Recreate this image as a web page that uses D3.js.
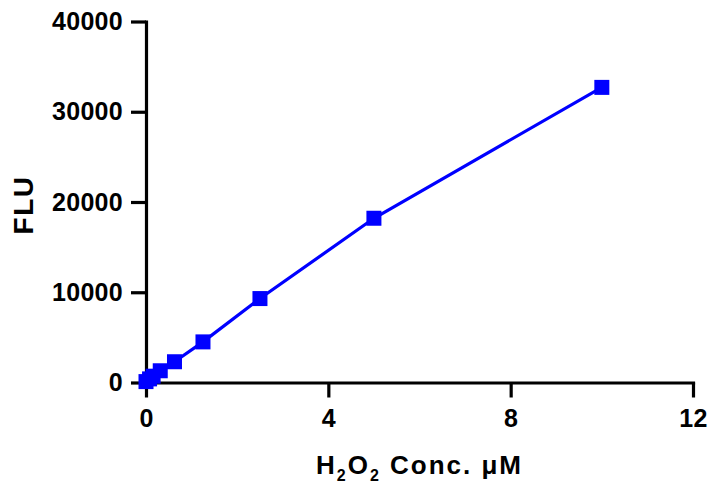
<!DOCTYPE html>
<html>
<head>
<meta charset="utf-8">
<script src="https://cdn.jsdelivr.net/npm/d3@7"></script>
<style>
  body { margin: 0; background: #fff; }
  svg text { font-family: "Liberation Sans", Arial, sans-serif; font-weight: bold; fill: #000; }
</style>
</head>
<body>
<div id="chart"></div>
<script>
var width = 711, height = 484;

// data
var conc = [0, 0.078, 0.156, 0.3125, 0.625, 1.25, 2.5, 5, 10];
var flu = [100, 400, 700, 1300, 2300, 4500, 9300, 18200, 32700];
var xTicks = [0, 4, 8, 12];
var yTicks = [0, 10000, 20000, 30000, 40000];

var svg = d3.select('#chart')
  .append('svg')
  .attr('width', width)
  .attr('height', height);

var xScale = d3.scaleLinear().domain([0, 12]).range([146, 693]);
var yScale = d3.scaleLinear().domain([0, 40000]).range([382.5, 21.5]);

var xAxis = d3.axisBottom(xScale).tickValues(xTicks).tickFormat(d3.format('d'))
  .tickSize(15).tickPadding(12).tickSizeOuter(0);
var yAxis = d3.axisLeft(yScale).tickValues(yTicks).tickFormat(d3.format('d'))
  .tickSize(15).tickPadding(8).tickSizeOuter(0);

var gx = svg.append('g')
  .attr('transform', 'translate(0,' + yScale(0) + ')')
  .call(xAxis);
var gy = svg.append('g')
  .attr('transform', 'translate(' + xScale(0) + ',0)')
  .call(yAxis);

[gx, gy].forEach(function (g) {
  g.selectAll('path, line').attr('stroke', '#000').attr('stroke-width', 3.2);
  g.selectAll('path').attr('stroke-linecap', 'square');
  g.selectAll('text').attr('font-size', 25).attr('font-family', '"Liberation Sans", Arial, sans-serif')
    .attr('font-weight', 'bold').attr('fill', '#000').attr('letter-spacing', 0.3);
});

// line
var line = d3.line()
  .x(function (d, i) { return xScale(conc[i]); })
  .y(function (d) { return yScale(d); });

svg.append('path')
  .datum(flu)
  .attr('d', line)
  .attr('fill', 'none')
  .attr('stroke', '#0000ff')
  .attr('stroke-width', 3.2);

var sz = 15;
svg.selectAll('rect.pt')
  .data(flu)
  .enter()
  .append('rect')
  .attr('class', 'pt')
  .attr('x', function (d, i) { return xScale(conc[i]) - sz / 2; })
  .attr('y', function (d) { return yScale(d) - sz / 2; })
  .attr('width', sz)
  .attr('height', sz)
  .style('fill', '#0000ff');

// axis titles
var xt = svg.append('text')
  .attr('x', (xScale(0) + xScale(12)) / 2)
  .attr('y', 474)
  .attr('text-anchor', 'middle')
  .attr('font-size', 26)
  .attr('letter-spacing', 2);
xt.append('tspan').text('H');
xt.append('tspan').attr('font-size', 16).attr('dy', 7).text('2');
xt.append('tspan').attr('dy', -7).text('O');
xt.append('tspan').attr('font-size', 16).attr('dy', 7).text('2');
xt.append('tspan').attr('dy', -7).text(' Conc. \u03bcM');

svg.append('text')
  .attr('transform', 'translate(33,205) rotate(-90)')
  .attr('text-anchor', 'middle')
  .attr('font-size', 28)
  .attr('letter-spacing', 1.5)
  .text('FLU');
</script>
</body>
</html>
